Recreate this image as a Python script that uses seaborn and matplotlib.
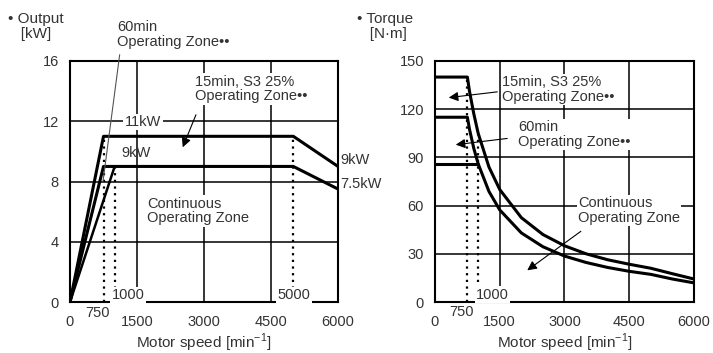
import matplotlib
matplotlib.use("Agg")
import matplotlib.pyplot as plt
import seaborn as sns

# ---- data ----
speed_ticks = [0, 1500, 3000, 4500, 6000]
output_ticks = [0, 4, 8, 12, 16]
torque_ticks = [0, 30, 60, 90, 120, 150]

# output chart [kW]
out_15min_speed = [0, 750, 5000, 6000]
out_15min_kw = [0, 11, 11, 9]
out_60min_speed = [0, 750, 5000, 6000]
out_60min_kw = [0, 9, 9, 7.5]
out_cont_speed = [0, 1000]
out_cont_kw = [0, 9]

# torque chart [N*m]
tq_upper_speed = [0, 750, 800, 900, 1000, 1250, 1500, 2000, 2500, 3000, 3500, 4000, 4500, 5000, 5500, 6000]
tq_upper = [140, 140, 131, 117, 105, 84, 70, 52.5, 42, 35, 30, 26.3, 23.5, 21, 17.6, 14.3]
tq_lower_speed = [0, 750, 800, 900, 1000, 1250, 1500, 2000, 2500, 3000, 3500, 4000, 4500, 5000, 5500, 6000]
tq_lower = [115, 115, 107.4, 95.5, 86, 68.8, 57.3, 43, 34.4, 28.6, 24.6, 21.5, 19.1, 17.2, 14.3, 11.9]
tq_cont_speed = [0, 1000]
tq_cont = [86, 86]

sns.set_style("white")
plt.rcParams['font.family'] = ['Liberation Sans', 'DejaVu Sans']
plt.rcParams['mathtext.fontset'] = 'custom'
plt.rcParams['mathtext.rm'] = 'Liberation Sans'

TXT = '#333333'
FS = 10.5

fig = plt.figure(figsize=(7.13, 3.53), dpi=100)
ax1 = fig.add_axes([70 / 713, 51 / 353, 268 / 713, 241 / 353])
ax2 = fig.add_axes([435 / 713, 51 / 353, 259 / 713, 241 / 353])


def style_axes(ax, yticks):
    ax.set_xlim(0, 6000)
    ax.set_ylim(yticks[0], yticks[-1])
    ax.set_xticks(speed_ticks)
    ax.set_yticks(yticks)
    ax.tick_params(length=0, labelsize=FS, labelcolor=TXT)
    ax.tick_params(axis='x', pad=9)
    ax.tick_params(axis='y', pad=8)
    ax.grid(True, color='black', lw=1.1)
    ax.set_axisbelow(True)
    for s in ax.spines.values():
        s.set_color('black')
        s.set_linewidth(1.5)
    ax.set_xlabel('Motor speed [min$^{\\mathregular{-1}}$]', fontsize=FS + 0.5, color=TXT, labelpad=2)
    ax.set_ylabel('')


def curve(ax, x, y, lw=2.2):
    sns.lineplot(x=x, y=y, ax=ax, color='black', lw=lw, sort=False,
                 estimator=None, zorder=4)


box = dict(facecolor='white', edgecolor='none', pad=1)

# ---------- left: output ----------
style_axes(ax1, output_ticks)
curve(ax1, out_15min_speed, out_15min_kw)
curve(ax1, out_60min_speed, out_60min_kw)
curve(ax1, out_cont_speed, out_cont_kw, lw=1.8)
ax1.vlines([750, 5000], 0, 11, colors='black', linestyles=(0, (1, 2)), lw=1.6, zorder=3)
ax1.vlines([1000], 0, 9, colors='black', linestyles=(0, (1, 2)), lw=1.6, zorder=3)

ax1.text(1634, 11.95, '11kW', fontsize=FS, color=TXT, ha='center', va='center', bbox=box, zorder=5)
ax1.text(1478, 9.9, '9kW', fontsize=FS, color=TXT, ha='center', va='center', zorder=5)
ax1.text(6045, 9.43, '9kW', fontsize=FS, color=TXT, ha='left', va='center', clip_on=False)
ax1.text(6045, 7.83, '7.5kW', fontsize=FS, color=TXT, ha='left', va='center', clip_on=False)
ax1.text(1724, 7.0, 'Continuous\nOperating Zone', fontsize=FS, color=TXT, ha='left', va='top',
         linespacing=1.05, bbox=box, zorder=5)
ax1.text(2799, 15.1, '15min, S3 25%\nOperating Zone••', fontsize=FS, color=TXT, ha='left', va='top',
         linespacing=1.05, bbox=box, zorder=5)
ax1.text(1052, 18.7, '60min\nOperating Zone••', fontsize=FS, color=TXT, ha='left', va='top',
         linespacing=1.05, clip_on=False)
ax1.annotate('', xy=(2500, 10.1), xytext=(2843, 12.6),
             arrowprops=dict(arrowstyle='-|>', color='black', lw=0.8, mutation_scale=14), zorder=6)
ax1.annotate('', xy=(730, 7.8), xytext=(1120, 16.6), annotation_clip=False,
             arrowprops=dict(arrowstyle='-', color='#555555', lw=0.8), zorder=6)
ax1.text(930, 0.45, '1000', fontsize=FS, color=TXT, ha='left', va='center', bbox=box, zorder=5)
ax1.text(4650, 0.45, '5000', fontsize=FS, color=TXT, ha='left', va='center', bbox=box, zorder=5)
ax1.text(620, -0.75, '750', fontsize=FS, color=TXT, ha='center', va='center', clip_on=False)

# ---------- right: torque ----------
style_axes(ax2, torque_ticks)
curve(ax2, tq_upper_speed, tq_upper)
curve(ax2, tq_lower_speed, tq_lower)
curve(ax2, tq_cont_speed, tq_cont)
ax2.vlines([750], 0, 138, colors='black', linestyles=(0, (1, 2)), lw=1.6, zorder=3)
ax2.vlines([1000], 0, 104, colors='black', linestyles=(0, (1, 2)), lw=1.6, zorder=3)

ax2.text(1552, 141, '15min, S3 25%\nOperating Zone••', fontsize=FS, color=TXT, ha='left', va='top',
         linespacing=1.05, bbox=box, zorder=5)
ax2.text(1923, 113, '60min\nOperating Zone••', fontsize=FS, color=TXT, ha='left', va='top',
         linespacing=1.05, bbox=box, zorder=5)
ax2.text(3313, 66, 'Continuous\nOperating Zone', fontsize=FS, color=TXT, ha='left', va='top',
         linespacing=1.05, bbox=box, zorder=5)
ax2.annotate('', xy=(255, 127), xytext=(1506, 131),
             arrowprops=dict(arrowstyle='-|>', color='black', lw=0.8, mutation_scale=14), zorder=6)
ax2.annotate('', xy=(417, 97.7), xytext=(1737, 102),
             arrowprops=dict(arrowstyle='-|>', color='black', lw=0.8, mutation_scale=14), zorder=6)
ax2.annotate('', xy=(2085, 18.7), xytext=(3430, 45),
             arrowprops=dict(arrowstyle='-|>', color='black', lw=0.8, mutation_scale=14), zorder=6)
ax2.text(950, 4.5, '1000', fontsize=FS, color=TXT, ha='left', va='center', bbox=box, zorder=5)
ax2.text(625, -6.5, '750', fontsize=FS, color=TXT, ha='center', va='center', clip_on=False)

# axis titles at top-left of each panel
fig.text(8 / 713, 1 - 12 / 353, '• Output\n   [kW]', fontsize=FS + 0.5, color=TXT, ha='left', va='top',
         linespacing=1.1)
fig.text(357 / 713, 1 - 12 / 353, '• Torque\n   [N·m]', fontsize=FS + 0.5, color=TXT, ha='left', va='top',
         linespacing=1.1)

fig.savefig('out.png', dpi=100)
